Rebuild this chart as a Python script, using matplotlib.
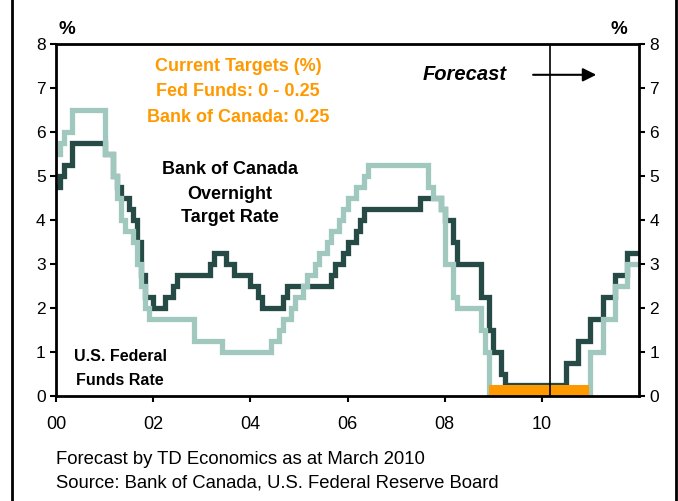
import numpy as np
import matplotlib
matplotlib.use("Agg")
import matplotlib.pyplot as plt
from matplotlib.lines import Line2D

plt.rcParams["font.family"] = ["Liberation Sans", "DejaVu Sans"]

# Bank of Canada overnight target rate: month of change and new level (incl. TD forecast)
boc_months = ["2000-01", "2000-02", "2000-03", "2000-05", "2001-01", "2001-03", "2001-04",
              "2001-05", "2001-07", "2001-08", "2001-09", "2001-10", "2001-11", "2002-01",
              "2002-04", "2002-06", "2002-07", "2003-03", "2003-04", "2003-07", "2003-09",
              "2004-01", "2004-03", "2004-04", "2004-09", "2004-10", "2005-09", "2005-10",
              "2005-12", "2006-01", "2006-03", "2006-04", "2006-05", "2007-07", "2007-12",
              "2008-01", "2008-03", "2008-04", "2008-10", "2008-12", "2009-01", "2009-03",
              "2009-04", "2010-07", "2010-10", "2011-01", "2011-04", "2011-07", "2011-10"]
boc_rates = [4.75, 5.0, 5.25, 5.75, 5.5, 5.0, 4.75,
             4.5, 4.25, 4.0, 3.5, 2.75, 2.25, 2.0,
             2.25, 2.5, 2.75, 3.0, 3.25, 3.0, 2.75,
             2.5, 2.25, 2.0, 2.25, 2.5, 2.75, 3.0,
             3.25, 3.5, 3.75, 4.0, 4.25, 4.5, 4.25,
             4.0, 3.5, 3.0, 2.25, 1.5, 1.0, 0.5,
             0.25, 0.75, 1.25, 1.75, 2.25, 2.75, 3.25]

# U.S. federal funds target rate
fed_months = ["2000-01", "2000-02", "2000-03", "2000-05", "2001-01", "2001-03", "2001-04",
              "2001-05", "2001-06", "2001-08", "2001-09", "2001-10", "2001-11", "2001-12",
              "2002-11", "2003-06", "2004-06", "2004-08", "2004-09", "2004-11", "2004-12",
              "2005-02", "2005-03", "2005-05", "2005-06", "2005-08", "2005-09", "2005-11",
              "2005-12", "2006-01", "2006-03", "2006-05", "2006-06", "2007-09", "2007-10",
              "2007-12", "2008-01", "2008-03", "2008-04", "2008-10", "2008-11", "2008-12",
              "2011-01", "2011-04", "2011-07", "2011-10"]
fed_rates = [5.5, 5.75, 6.0, 6.5, 5.5, 5.0, 4.5,
             4.0, 3.75, 3.5, 3.0, 2.5, 2.0, 1.75,
             1.25, 1.0, 1.25, 1.5, 1.75, 2.0, 2.25,
             2.5, 2.75, 3.0, 3.25, 3.5, 3.75, 4.0,
             4.25, 4.5, 4.75, 5.0, 5.25, 4.75, 4.5,
             4.25, 3.0, 2.25, 2.0, 1.5, 1.0, 0.0,
             1.0, 1.75, 2.5, 3.0]

# current fed funds target band (0 - 0.25) and forecast date
band_start, band_end, band_top = 2008.917, 2010.97, 0.25
forecast_date = 2010.17
x_ticks = [2000, 2002, 2004, 2006, 2008, 2010]
x_labels = ["00", "02", "04", "06", "08", "10"]

DARK = "#264b46"
LIGHT = "#a0c8be"
ORANGE = "#ff9900"


def to_year(months):
    # "YYYY-MM" -> decimal year at start of the month
    return np.array([int(m[:4]) + (int(m[5:]) - 1) / 12 for m in months])


W, H = 678, 501
fig = plt.figure(figsize=(W / 100, H / 100), dpi=100)
ax = fig.add_axes([56 / W, 1 - 396 / H, (639 - 56) / W, (396 - 44) / H])

bx = np.append(to_year(boc_months), 2012.0)
by = np.append(boc_rates, boc_rates[-1])
fx = np.append(to_year(fed_months), 2012.0)
fy = np.append(fed_rates, fed_rates[-1])

ax.step(bx, by, where="post", color=DARK, lw=3.8, zorder=2, solid_joinstyle="miter")
ax.step(fx, fy, where="post", color=LIGHT, lw=3.8, zorder=3, solid_joinstyle="miter")
ax.fill_between([band_start, band_end], 0, band_top, color=ORANGE, lw=0, zorder=4)
ax.axvline(forecast_date, color="black", lw=1.2, zorder=5)

ax.set_xlim(2000, 2012)
ax.set_ylim(0, 8)
ax.set_xticks(x_ticks)
ax.set_xticklabels(x_labels)
ax.set_yticks(range(0, 9))
ax.tick_params(axis="y", which="both", direction="out", length=4.5, width=1.5,
               labelsize=12.5, left=True, right=True, labelleft=True, labelright=True, pad=3)
ax.tick_params(axis="x", direction="out", length=4.5, width=1.5, labelsize=13, pad=10)
for s in ax.spines.values():
    s.set_linewidth(2)
    s.set_zorder(6)

# annotations
for txt, yy in zip(["Current Targets (%)", "Fed Funds: 0 - 0.25", "Bank of Canada: 0.25"],
                   [7.48, 6.91, 6.34]):
    ax.text(2003.75, yy, txt, color=ORANGE, fontsize=13, fontweight="bold",
            ha="center", va="center")
for txt, yy in zip(["Bank of Canada", "Overnight", "Target Rate"], [5.14, 4.57, 4.05]):
    ax.text(2003.58, yy, txt, color="black", fontsize=13, fontweight="bold",
            ha="center", va="center")
for txt, yy in zip(["U.S. Federal", "Funds Rate"], [0.89, 0.36]):
    ax.text(2001.32, yy, txt, color="black", fontsize=11.5, fontweight="bold",
            ha="center", va="center")

ax.text(2008.42, 7.30, "Forecast", fontsize=14.5, fontweight="bold", style="italic",
        ha="center", va="center")
ax.annotate("", xy=(2011.12, 7.30), xytext=(2009.82, 7.30),
            arrowprops=dict(arrowstyle="-|>", color="black", lw=1.5,
                            mutation_scale=20, shrinkA=0, shrinkB=0))

fig.text(67 / W, 1 - 29 / H, "%", fontsize=13.5, fontweight="bold", ha="center", va="center")
fig.text(619 / W, 1 - 29 / H, "%", fontsize=13.5, fontweight="bold", ha="center", va="center")

fig.text(56 / W, 1 - 459 / H, "Forecast by TD Economics as at March 2010",
         fontsize=13.3, ha="left", va="center")
fig.text(56 / W, 1 - 483 / H, "Source: Bank of Canada, U.S. Federal Reserve Board",
         fontsize=13.3, ha="left", va="center")

# outer frame edges
for xf in (12 / W, 676 / W):
    fig.add_artist(Line2D([xf, xf], [0, 1], transform=fig.transFigure, color="black", lw=2))

fig.savefig("out.png", dpi=100)
